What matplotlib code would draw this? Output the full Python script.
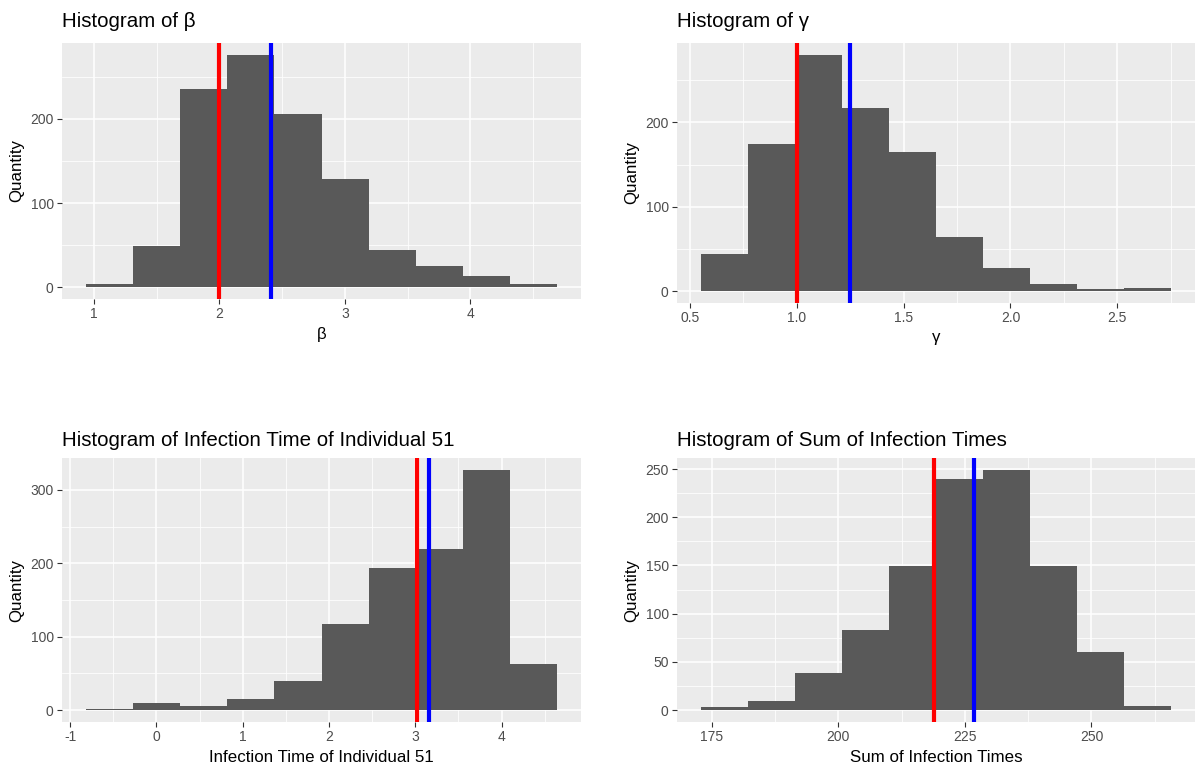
import matplotlib
matplotlib.use("Agg")
import matplotlib.pyplot as plt
from matplotlib.ticker import FixedLocator, MultipleLocator, FormatStrFormatter
import numpy as np

plt.rcParams['font.family'] = ['Liberation Sans', 'DejaVu Sans']
plt.rcParams['axes.unicode_minus'] = False

# ---------------- data ----------------
# beta
beta_counts = [4, 49, 235, 276, 206, 129, 44, 25, 13, 4]
beta_start = 0.933
beta_width = 0.376
beta_true = 2.0
beta_mean = 2.41

# gamma
gamma_counts = [44, 174, 280, 217, 165, 64, 28, 8, 2, 4]
gamma_start = 0.550
gamma_width = 0.2203
gamma_true = 1.0
gamma_mean = 1.25

# infection time of individual 51
inf51_counts = [2, 9, 5, 15, 39, 117, 194, 219, 327, 63]
inf51_start = -0.822
inf51_width = 0.547
inf51_true = 3.02
inf51_mean = 3.16

# sum of infection times
sum_counts = [3, 9, 38, 83, 149, 240, 249, 149, 60, 4]
sum_start = 172.8
sum_width = 9.30
sum_true = 218.9
sum_mean = 226.8

titles = ["Histogram of \u03b2", "Histogram of \u03b3",
          "Histogram of Infection Time of Individual 51",
          "Histogram of Sum of Infection Times"]
xlabels = ["\u03b2", "\u03b3", "Infection Time of Individual 51", "Sum of Infection Times"]
ylabel = "Quantity"

x_major = [[1, 2, 3, 4], [0.5, 1.0, 1.5, 2.0, 2.5], [-1, 0, 1, 2, 3, 4], [175, 200, 225, 250]]
x_fmt = ["%g", "%.1f", "%g", "%g"]
y_major = [[0, 100, 200], [0, 100, 200], [0, 100, 200, 300], [0, 50, 100, 150, 200, 250]]

# ---------------- figure ----------------
W, H = 1196, 767
fig = plt.figure(figsize=(W / 100, H / 100), dpi=100)

# panel rectangles in pixels: left, right, top, bottom
rects = [(62, 581, 43, 299), (677, 1195, 43, 303), (62, 581, 458, 722), (677, 1195, 458, 722)]
title_base = [27, 27, 446, 446]
xlab_y = [335, 337, 757, 757]
ylab_x = [17, 632, 17, 632]

panels = [
    (beta_counts, beta_start, beta_width, beta_true, beta_mean),
    (gamma_counts, gamma_start, gamma_width, gamma_true, gamma_mean),
    (inf51_counts, inf51_start, inf51_width, inf51_true, inf51_mean),
    (sum_counts, sum_start, sum_width, sum_true, sum_mean),
]

BG = '#EBEBEB'
BAR = '#595959'
TICKC = '#4D4D4D'

for i, (counts, start, width, tv, mv) in enumerate(panels):
    l, r, t, b = rects[i]
    ax = fig.add_axes([l / W, 1 - b / H, (r - l) / W, (b - t) / H])
    ax.set_facecolor(BG)
    for s in ax.spines.values():
        s.set_visible(False)

    counts = np.asarray(counts, dtype=float)
    edges = start + width * np.arange(len(counts) + 1)
    ax.bar(edges[:-1], counts, width=width, align='edge', color=BAR, linewidth=0, zorder=2)
    ax.axvline(tv, color='#FF0000', lw=3.0, zorder=3)
    ax.axvline(mv, color='#0000FF', lw=3.0, zorder=3)

    lo, hi = edges[0], edges[-1]
    pad = 0.05 * (hi - lo)
    ax.set_xlim(lo - pad, hi + pad)
    ymax = counts.max()
    ax.set_ylim(-0.05 * ymax, 1.05 * ymax)

    xm = x_major[i]
    ym = y_major[i]
    ax.xaxis.set_major_locator(FixedLocator(xm))
    ax.xaxis.set_major_formatter(FormatStrFormatter(x_fmt[i]))
    ax.yaxis.set_major_locator(FixedLocator(ym))
    ax.xaxis.set_minor_locator(MultipleLocator((xm[1] - xm[0]) / 2))
    ax.yaxis.set_minor_locator(MultipleLocator((ym[1] - ym[0]) / 2))

    ax.grid(which='major', color='white', lw=1.1, zorder=0)
    ax.grid(which='minor', color='white', lw=0.55, zorder=0)
    ax.set_axisbelow(True)

    ax.tick_params(which='major', length=3.5, width=0.8, color='#333333',
                   labelsize=10, labelcolor=TICKC, pad=2.5)
    ax.tick_params(which='minor', length=0)

    fig.text(l / W, 1 - title_base[i] / H, titles[i], fontsize=14.8,
             ha='left', va='baseline', color='black')
    fig.text((l + r) / 2 / W, 1 - xlab_y[i] / H, xlabels[i], fontsize=12.2,
             ha='center', va='center', color='black')
    fig.text(ylab_x[i] / W, 1 - (t + b) / 2 / H, ylabel, fontsize=12.2,
             ha='center', va='center', rotation=90, color='black')

fig.savefig("out.png", dpi=100, facecolor='white')
